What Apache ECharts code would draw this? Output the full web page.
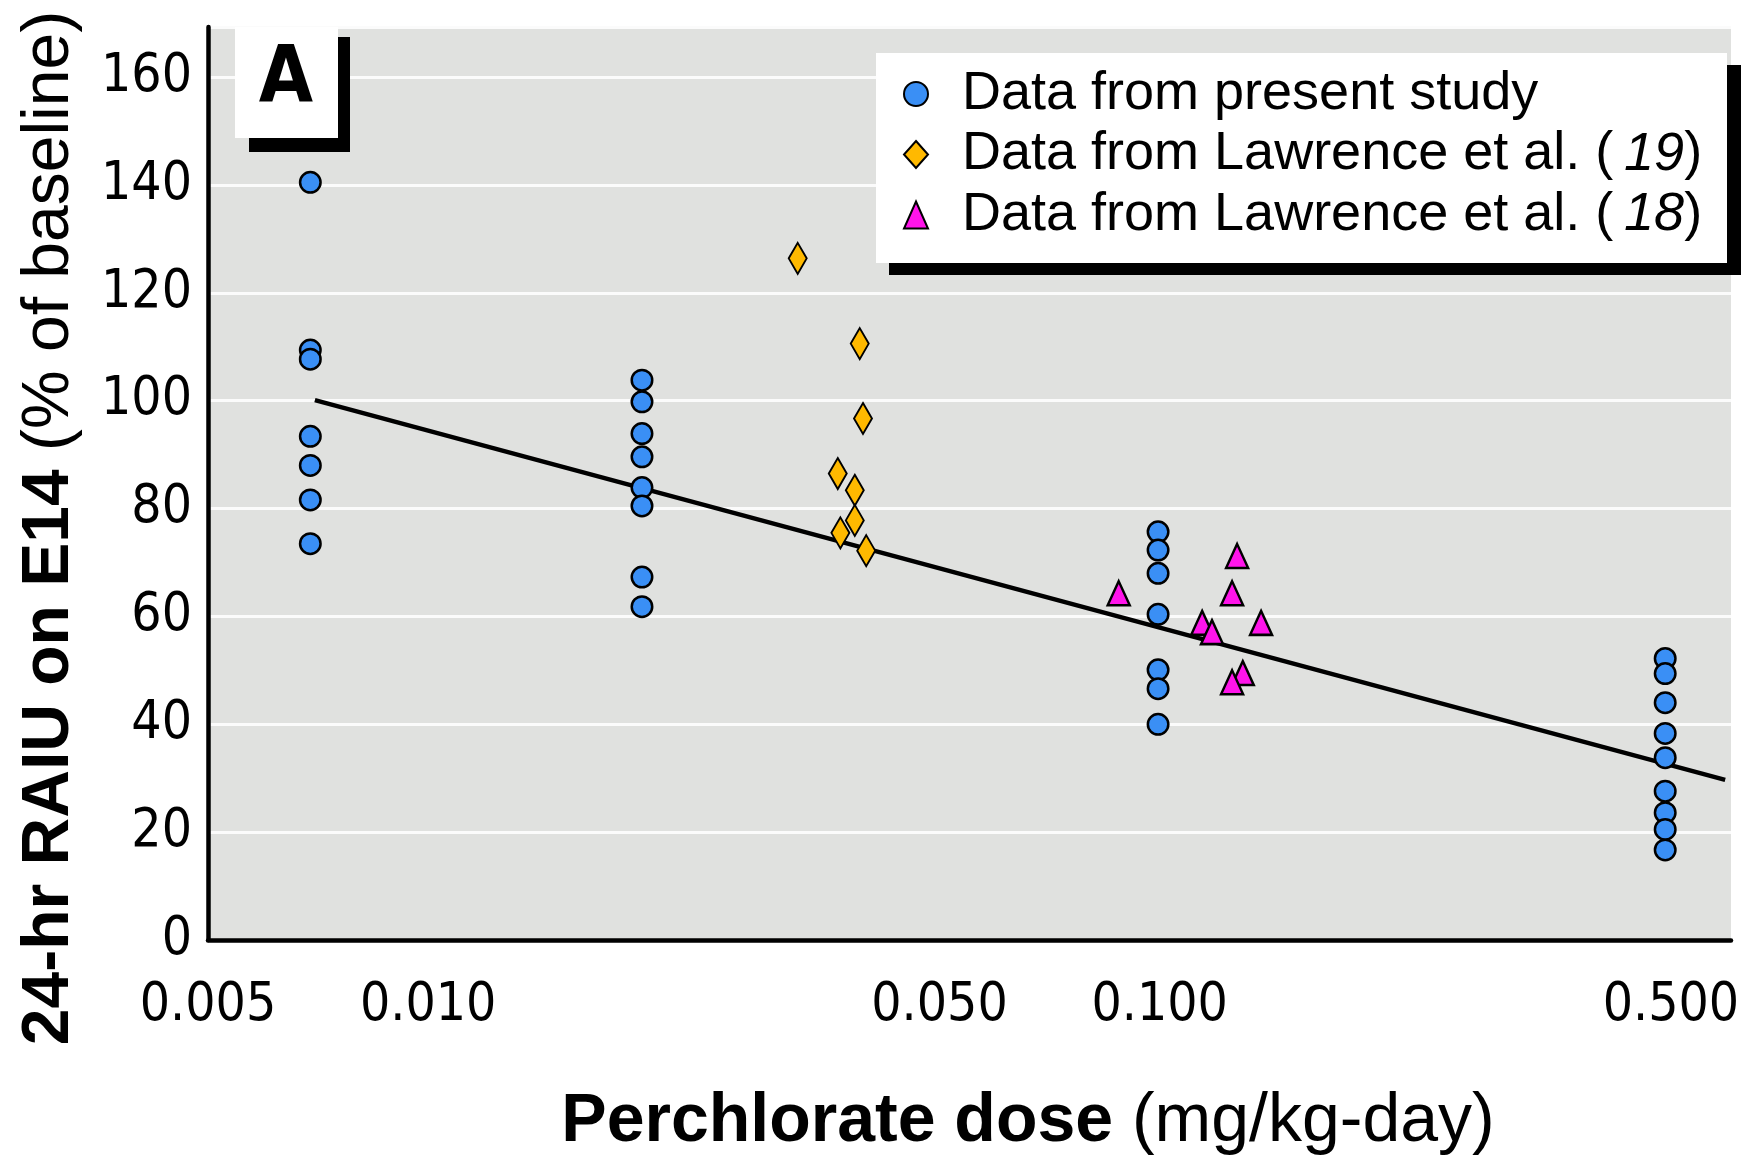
<!DOCTYPE html>
<html>
<head>
<meta charset="utf-8">
<script src="https://cdn.jsdelivr.net/npm/echarts@6/dist/echarts.min.js"></script>
<style>
  html, body { margin: 0; padding: 0; background: #fff; }
  #dom { width: 1746px; height: 1164px; }
</style>
</head>
<body>
<div id="dom"></div>
<script>
// data: dose (mg/kg-day) and 24-hr RAIU (% of baseline)
var presentDose = [
  0.0069, 0.0069, 0.0069, 0.0069, 0.0069, 0.0069, 0.0069,
  0.0196, 0.0196, 0.0196, 0.0196, 0.0196, 0.0196, 0.0196, 0.0196,
  0.0995, 0.0995, 0.0995, 0.0995, 0.0995, 0.0995, 0.0995,
  0.491, 0.491, 0.491, 0.491, 0.491, 0.491, 0.491, 0.491, 0.491
];
var presentRaiu = [
  140.5, 109.4, 107.7, 93.4, 88.0, 81.6, 73.5,
  103.8, 99.8, 93.9, 89.6, 83.9, 80.5, 67.3, 61.8,
  75.7, 72.3, 68.0, 60.4, 50.1, 46.6, 40.0,
  52.2, 49.4, 44.0, 38.3, 33.8, 27.6, 23.6, 20.5, 16.7
];
var lawrence19Dose = [0.0320, 0.0389, 0.0393, 0.0363, 0.0383, 0.0383, 0.0366, 0.0397];
var lawrence19Raiu = [126.4, 110.6, 96.7, 86.5, 83.4, 77.8, 75.5, 72.2];
var lawrence18Dose = [0.0879, 0.1276, 0.1256, 0.1143, 0.1179, 0.1376, 0.1299, 0.1256];
var lawrence18Raiu = [64.3, 71.2, 64.3, 58.8, 57.1, 58.8, 49.5, 47.8];
var fitDose = [0.007, 0.593];
var fitRaiu = [100.1, 29.7];
var doseTicks = [0.005, 0.010, 0.050, 0.100, 0.500];

var narrow = "'Liberation Sans Narrow', 'DejaVu Sans Condensed', sans-serif";
var regular = "'Liberation Sans', Arial, sans-serif";

// x axis is drawn as log10(dose)
function pairs(xs, ys) {
  var list = [];
  for (var i = 0; i < xs.length; i++) {
    list.push([Math.log10(xs[i]), ys[i]]);
  }
  return list;
}

var myChart = echarts.init(document.getElementById('dom'));

var option = {
  animation: false,
  grid: {
    left: 208,
    right: 15,
    top: 27,
    bottom: 224,
    show: true,
    backgroundColor: '#e0e1df',
    borderWidth: 0
  },
  xAxis: {
    type: 'value',
    min: Math.log10(0.005),
    max: Math.log10(0.604),
    axisLine: { show: true, onZero: false, lineStyle: { color: '#000', width: 4.5 } },
    axisTick: { show: false },
    splitLine: { show: false },
    axisLabel: {
      customValues: doseTicks.map(function (d) { return Math.log10(d); }),
      formatter: function (v) { return Math.pow(10, v).toFixed(3); },
      margin: 40,
      color: '#000',
      fontSize: 53,
      fontFamily: narrow
    }
  },
  yAxis: {
    type: 'value',
    min: 0,
    max: 169.3,
    interval: 20,
    axisLine: { show: true, lineStyle: { color: '#000', width: 4.5 } },
    axisTick: { show: false },
    splitLine: { show: true, lineStyle: { color: '#fbfbfb', width: 3 } },
    axisLabel: {
      showMaxLabel: false,
      margin: 16,
      color: '#000',
      fontSize: 53,
      fontFamily: narrow
    }
  },
  legend: {
    orient: 'vertical',
    left: 903,
    top: 67,
    padding: 0,
    itemGap: 6.5,
    itemWidth: 24,
    itemHeight: 27,
    z: 10,
    data: [
      { name: 'Data from present study', icon: 'circle' },
      { name: 'Data from Lawrence et al. (19)', icon: 'diamond' },
      { name: 'Data from Lawrence et al. (18)', icon: 'triangle' }
    ],
    formatter: function (name) {
      return name.replace(/\((\d+)\)/, '(\u2009{i|$1})');
    },
    textStyle: {
      color: '#000',
      fontSize: 54,
      lineHeight: 52,
      fontFamily: regular,
      padding: [0, 0, 0, 29],
      rich: {
        i: { fontSize: 54, fontStyle: 'italic', fontFamily: regular, color: '#000' }
      }
    }
  },
  graphic: [
    // legend frame with its black drop shadow
    { type: 'rect', z: 5, shape: { x: 889, y: 65, width: 852, height: 210 }, style: { fill: '#000' } },
    { type: 'rect', z: 6, shape: { x: 876, y: 53, width: 851, height: 210 }, style: { fill: '#fff' } },
    // panel label "A"
    { type: 'rect', z: 5, shape: { x: 249, y: 37, width: 101, height: 115 }, style: { fill: '#000' } },
    { type: 'rect', z: 6, shape: { x: 235, y: 27, width: 103, height: 111 }, style: { fill: '#fff' } },
    {
      type: 'text', z: 7, x: 286, y: 81,
      style: { text: 'A', fill: '#000', font: "bold 78px " + narrow, align: 'center', verticalAlign: 'middle' }
    },
    // axis titles
    {
      type: 'text', z: 7, x: 50, y: 528, rotation: Math.PI / 2,
      style: {
        text: '{b|24-hr RAIU on E14\u00a0}{r|(% of baseline)}',
        align: 'center', verticalAlign: 'middle',
        rich: {
          b: { fontSize: 66, fontWeight: 'bold', fontFamily: regular, fill: '#000' },
          r: { fontSize: 66, fontFamily: regular, fill: '#000' }
        }
      }
    },
    {
      type: 'text', z: 7, x: 1028, y: 1122,
      style: {
        text: '{b|Perchlorate dose\u00a0}{r|(mg/kg-day)}',
        align: 'center', verticalAlign: 'middle',
        rich: {
          b: { fontSize: 68, fontWeight: 'bold', fontFamily: regular, fill: '#000' },
          r: { fontSize: 68, fontFamily: regular, fill: '#000' }
        }
      }
    }
  ],
  series: [{
    name: 'fit',
    type: 'line',
    z: 1,
    symbol: 'none',
    lineStyle: { color: '#000', width: 4.5 },
    data: pairs(fitDose, fitRaiu)
  }, {
    name: 'Data from present study',
    type: 'scatter',
    z: 3,
    symbol: 'circle',
    symbolSize: 20.5,
    itemStyle: { color: '#3a8ff5', borderColor: '#000', borderWidth: 2.5, opacity: 1 },
    data: pairs(presentDose, presentRaiu)
  }, {
    name: 'Data from Lawrence et al. (19)',
    type: 'scatter',
    z: 3,
    symbol: 'diamond',
    symbolSize: [18, 31],
    itemStyle: { color: '#ffb900', borderColor: '#000', borderWidth: 2, opacity: 1 },
    data: pairs(lawrence19Dose, lawrence19Raiu)
  }, {
    name: 'Data from Lawrence et al. (18)',
    type: 'scatter',
    z: 3,
    symbol: 'triangle',
    symbolSize: [22, 24],
    itemStyle: { color: '#ff14ea', borderColor: '#000', borderWidth: 2.5, opacity: 1 },
    data: pairs(lawrence18Dose, lawrence18Raiu)
  }]
};
myChart.setOption(option);
</script>
</body>
</html>
